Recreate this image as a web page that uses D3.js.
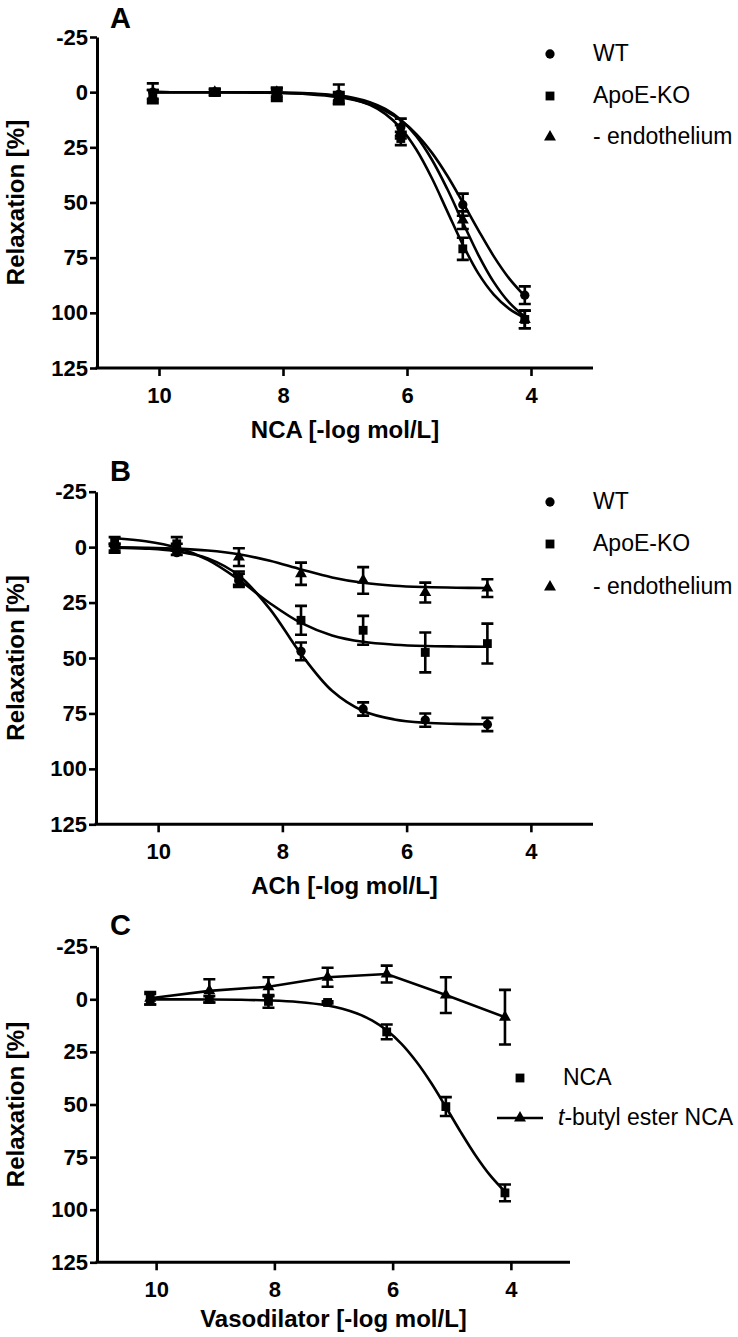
<!DOCTYPE html>
<html><head><meta charset="utf-8">
<script src="https://cdn.jsdelivr.net/npm/d3@7"></script>
<style>body{margin:0;background:#fff}svg{display:block}</style>
</head><body>
<svg id="chart" width="738" height="1337"></svg>
<script>
// ---------- data ----------
const xTicks = [10, 8, 6, 4];
const yTicks = [-25, 0, 25, 50, 75, 100, 125];
const seriesAB = ["WT", "ApoE-KO", "- endothelium"];
const seriesC = ["NCA", "t-butyl ester NCA"];

// Panel A: NCA (-log mol/L)
const xA = [10.1, 9.1, 8.1, 7.1, 6.1, 5.1, 4.1];
const aWT = [0, 0, 1, 1, 16, 51, 92];
const aWTerr = [4, 1.5, 3, 4.5, 4, 5, 4];
const aApoE = [1, 0, 1, 3, 21, 71, 103];
const aApoEerr = [2, 1.5, 2, 2, 3, 5, 4];
const aEndo = [2, 0, 0, 2, 18, 58, 103];
const aEndoerr = [3, 1, 2, 2, 3, 4, 4];
const fitXA = [10.1, 9.6, 9.1, 8.6, 8.1, 7.6, 7.1, 6.85, 6.6, 6.35, 6.1, 5.85, 5.6, 5.35, 5.1, 4.85, 4.6, 4.35, 4.1];
const aWTfit = [0, 0.02, 0.06, 0.14, 0.36, 0.91, 2.25, 3.53, 5.49, 8.45, 12.8, 19.0, 27.4, 37.9, 50.0, 62.5, 74.4, 84.5, 92.4];
const aApoEfit = [0, 0.01, 0.02, 0.06, 0.19, 0.6, 1.89, 3.31, 5.75, 9.82, 16.3, 26.0, 38.9, 54.0, 69.1, 82.1, 91.7, 98.2, 102.3];
const aEndofit = [0, 0.01, 0.02, 0.06, 0.18, 0.53, 1.56, 2.65, 4.51, 7.57, 12.46, 19.9, 30.5, 43.9, 59.0, 73.7, 86.1, 95.4, 101.8];

// Panel B: ACh (-log mol/L)
const xB = [10.7, 9.7, 8.7, 7.7, 6.7, 5.7, 4.7];
const bWT = [0, 2.5, 15, 47, 73, 78, 80];
const bWTerr = [1.5, 1, 3, 4, 3, 3, 3];
const bApoE = [-3, -1.5, 14, 33, 37.5, 47.5, 43.5];
const bApoEerr = [1.5, 3, 3, 6.5, 6.5, 9, 9];
const bEndo = [1, 0, 4.5, 12, 15, 20.5, 18.5];
const bEndoerr = [1.5, 1.5, 4, 5, 6, 4.5, 4];
const fitXB = [10.7, 10.2, 9.7, 9.2, 8.7, 8.2, 7.7, 7.2, 6.7, 6.2, 5.7, 5.2, 4.7];
const bWTfit = [0.24, 0.67, 1.87, 5.06, 12.8, 27.95, 48.2, 64.8, 73.9, 77.7, 79.2, 79.7, 79.9];
const bApoEfit = [-4.0, -2.67, 0.18, 5.75, 14.7, 25.3, 34.2, 39.8, 42.7, 44.0, 44.6, 44.8, 44.9];
const bEndofit = [0.12, 0.29, 0.67, 1.52, 3.23, 6.17, 10.05, 13.65, 16.1, 17.4, 18.0, 18.3, 18.4];

// Panel C: vasodilator (-log mol/L)
const xC = [10.1, 9.1, 8.1, 7.1, 6.1, 5.1, 4.1];
const cNCA = [0, 0, 1, 1.5, 15.5, 51, 92];
const cNCAerr = [2.5, 1.5, 3, 0.5, 3.5, 4.5, 4];
const cTbu = [-0.5, -4, -6, -10.5, -12, -2, 8.5];
const cTbuerr = [3, 5.5, 4.5, 4.5, 4, 8.5, 13];
const fitXC = [10.1, 9.6, 9.1, 8.6, 8.1, 7.6, 7.1, 6.85, 6.6, 6.35, 6.1, 5.85, 5.6, 5.35, 5.1, 4.85, 4.6, 4.35, 4.1];
const cNCAfit = [0.02, 0.04, 0.1, 0.23, 0.54, 1.26, 2.95, 4.47, 6.75, 10.05, 14.75, 21.2, 29.6, 39.7, 51.2, 63.0, 74.1, 83.7, 91.4];

// ---------- drawing ----------
const svg = d3.select("#chart");
const FONT = "'Liberation Sans', Arial, Helvetica, sans-serif";
const sym = {
  circle: d3.symbol().type(d3.symbolCircle).size(68),
  square: d3.symbol().type(d3.symbolSquare).size(78),
  triangle: d3.symbol().type(d3.symbolTriangle).size(62)
};

function panel(cfg) {
  const g = svg.append("g");
  const x = d3.scaleLinear().domain([11, 3]).range([cfg.x0, cfg.x1]);
  const y = d3.scaleLinear().domain([-25, 125]).range([cfg.yTop, cfg.yBot]);

  g.append("text").attr("x", 110).attr("y", cfg.letterY)
    .attr("font-family", FONT).attr("font-weight", "bold").attr("font-size", 29)
    .text(cfg.letter);

  const ya = g.append("g").attr("transform", `translate(${cfg.x0},0)`)
    .call(d3.axisLeft(y).tickValues(yTicks).tickFormat(d => String(d)).tickSize(7).tickSizeOuter(0).tickPadding(2));
  const xa = g.append("g").attr("transform", `translate(0,${cfg.yBot})`)
    .call(d3.axisBottom(x).tickValues(xTicks).tickFormat(d => String(d)).tickSize(8).tickSizeOuter(0));
  [ya, xa].forEach(a => {
    a.select(".domain").attr("stroke", "#000").attr("stroke-width", 3);
    a.selectAll(".tick line").attr("stroke", "#000").attr("stroke-width", 2.6);
    a.selectAll("text").attr("font-family", FONT).attr("font-weight", "bold")
      .attr("font-size", 22).attr("fill", "#000");
  });
  xa.selectAll("text").attr("y", cfg.tickLabOff).attr("dy", 0);
  xa.select(".domain").attr("d", `M${cfg.x0 - 1.5},0H${cfg.x1}`);

  g.append("text").attr("x", (cfg.x0 + cfg.x1) / 2).attr("y", cfg.yBot + cfg.titleOff)
    .attr("text-anchor", "middle").attr("font-family", FONT).attr("font-weight", "bold")
    .attr("font-size", 24).text(cfg.xTitle);
  g.append("text").attr("transform", `translate(24,${(cfg.yTop + cfg.yBot) / 2}) rotate(-90)`)
    .attr("text-anchor", "middle").attr("font-family", FONT).attr("font-weight", "bold")
    .attr("font-size", 24).text("Relaxation [%]");

  const line = d3.line().x(d => x(d[0])).y(d => y(d[1])).curve(d3.curveCatmullRom.alpha(0.5));
  const poly = d3.line().x(d => x(d[0])).y(d => y(d[1]));

  cfg.series.forEach(s => {
    const pts = d3.zip(s.fx, s.fy);
    g.append("path").attr("d", (s.straight ? poly : line)(pts))
      .attr("fill", "none").attr("stroke", "#000").attr("stroke-width", 2.6);
  });
  cfg.series.forEach(s => {
    const eb = g.append("g").attr("stroke", "#000").attr("stroke-width", 2.6).attr("fill", "none");
    s.xs.forEach((xv, i) => {
      const cx = x(xv), y1 = y(s.ys[i] - s.err[i]), y2 = y(s.ys[i] + s.err[i]);
      eb.append("path").attr("d", `M${cx},${y1}V${y2}M${cx - 6},${y1}H${cx + 6}M${cx - 6},${y2}H${cx + 6}`);
    });
    g.selectAll(null).data(s.xs).enter().append("path")
      .attr("d", sym[s.shape]())
      .attr("transform", (d, i) => `translate(${x(d)},${y(s.ys[i])})`)
      .attr("fill", "#000");
  });

  cfg.legend.forEach(L => {
    const ly = L.y;
    if (L.line) {
      g.append("path").attr("d", `M${L.mx - 23},${ly - 7}H${L.mx + 23}`)
        .attr("stroke", "#000").attr("stroke-width", 2.6);
    }
    g.append("path").attr("d", sym[L.shape]()).attr("transform", `translate(${L.mx},${ly - 7})`).attr("fill", "#000");
    const t = g.append("text").attr("x", L.tx).attr("y", ly)
      .attr("font-family", FONT).attr("font-size", 23).attr("fill", "#000");
    if (L.italicT) {
      t.append("tspan").attr("font-style", "italic").text("t");
      t.append("tspan").text(L.label.slice(1));
    } else t.text(L.label);
  });
}

panel({
  letter: "A", letterY: 28, x0: 97, x1: 593, yTop: 37, yBot: 368,
  tickLabOff: 35, titleOff: 70, xTitle: "NCA [-log mol/L]",
  series: [
    {xs: xA, ys: aWT, err: aWTerr, shape: "circle", fx: fitXA, fy: aWTfit},
    {xs: xA, ys: aApoE, err: aApoEerr, shape: "square", fx: fitXA, fy: aApoEfit},
    {xs: xA, ys: aEndo, err: aEndoerr, shape: "triangle", fx: fitXA, fy: aEndofit}
  ],
  legend: [
    {label: seriesAB[0], shape: "circle", mx: 550, tx: 593, y: 61},
    {label: seriesAB[1], shape: "square", mx: 550, tx: 593, y: 103},
    {label: seriesAB[2], shape: "triangle", mx: 550, tx: 593, y: 144}
  ]
});
panel({
  letter: "B", letterY: 481, x0: 96, x1: 593, yTop: 491.7, yBot: 824.3,
  tickLabOff: 35, titleOff: 70, xTitle: "ACh [-log mol/L]",
  series: [
    {xs: xB, ys: bWT, err: bWTerr, shape: "circle", fx: fitXB, fy: bWTfit},
    {xs: xB, ys: bApoE, err: bApoEerr, shape: "square", fx: fitXB, fy: bApoEfit},
    {xs: xB, ys: bEndo, err: bEndoerr, shape: "triangle", fx: fitXB, fy: bEndofit}
  ],
  legend: [
    {label: seriesAB[0], shape: "circle", mx: 550, tx: 593, y: 509},
    {label: seriesAB[1], shape: "square", mx: 550, tx: 593, y: 551},
    {label: seriesAB[2], shape: "triangle", mx: 550, tx: 593, y: 594}
  ]
});
panel({
  letter: "C", letterY: 935, x0: 97, x1: 570, yTop: 946.7, yBot: 1262.3,
  tickLabOff: 34.5, titleOff: 65, xTitle: "Vasodilator [-log mol/L]",
  series: [
    {xs: xC, ys: cNCA, err: cNCAerr, shape: "square", fx: fitXC, fy: cNCAfit},
    {xs: xC, ys: cTbu, err: cTbuerr, shape: "triangle", fx: xC, fy: cTbu, straight: true}
  ],
  legend: [
    {label: seriesC[0], shape: "square", mx: 520, tx: 563, y: 1085},
    {label: seriesC[1], shape: "triangle", mx: 520, tx: 558, y: 1125, line: true, italicT: true}
  ]
});
</script>
</body></html>
